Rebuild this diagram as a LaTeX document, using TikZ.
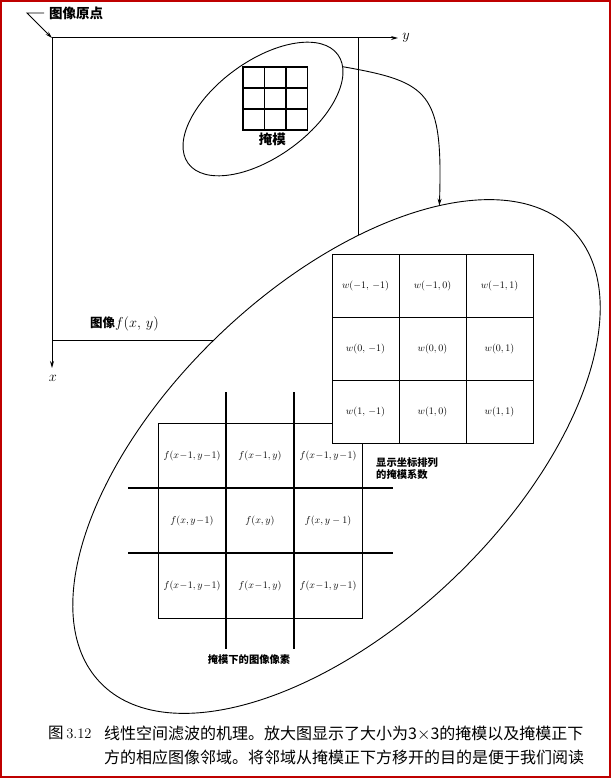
\documentclass[tikz,border=0pt]{standalone}
\usepackage{fontspec}
\newfontfamily\cjk{Noto Sans CJK SC}
\usetikzlibrary{shapes.geometric,arrows.meta,positioning}

\begin{document}
\begin{tikzpicture}[x=1pt,y=-1pt]

      \tikzset{cell/.style={draw, line width=1pt, inner sep=0pt, outer sep=0pt},
               fcell/.style={cell, minimum width=68pt, minimum height=65pt, font=\fontsize{10}{11}\selectfont},
               wcell/.style={cell, fill=white, minimum width=67pt, minimum height=63pt, font=\fontsize{9.6}{11}\selectfont},
               mcell/.style={cell, line width=1.2pt, minimum width=21.5pt, minimum height=21pt},
               blob/.style={draw, ellipse, line width=0.9pt, inner sep=0pt, outer sep=0pt},
               lbl/.style={font=\cjk\bfseries\fontsize{10.3}{12.5}\selectfont, inner sep=1pt},
               axisarrow/.style={-{Stealth[length=7pt,width=4pt]}}}
\useasboundingbox (0,0) rectangle (611,778);
\draw[red!75!black, line width=2pt] (1,1) rectangle (610,777);
%% Image f(x,y)
        \coordinate (o) at (52,38);
        \coordinate (ytip) at (398,38);
        \coordinate (xtip) at (52,368);
        \draw[line width=1pt] (358,38) -- (358,340) -- (52,340);
        \draw[line width=1pt, axisarrow] (o) -- (ytip);
        \draw[line width=1pt, axisarrow] (o) -- (xtip);
        \node[font=\fontsize{15}{16}\selectfont, inner sep=1pt] (ylab) at (406,38) {$y$};
        \node[font=\fontsize{15}{16}\selectfont, inner sep=1pt] (xlab) at (53,378) {$x$};
        \node[lbl, font=\cjk\bfseries\fontsize{13.5}{15}\selectfont, anchor=west] (origin) at (48,13) {图像原点};
        \draw[line width=0.9pt, axisarrow] ([xshift=-4pt]origin.west) -- ++(-17,0) -- (o);
        \node[lbl, font=\cjk\bfseries\fontsize{12.5}{14}\selectfont, anchor=west] (image) at (89,324) {图像{\fontsize{13.5}{14}\selectfont$f(x,\,y)$}};
%% Mask
        \node[blob, minimum width=185pt, minimum height=96pt, rotate=36] (small) at (263,109) {};
        \node[mcell] (m11) at (253.75,77.5) {};
        \node[mcell] (m12) at (275.25,77.5) {};
        \node[mcell] (m13) at (296.75,77.5) {};
        \node[mcell] (m21) at (253.75,98.5) {};
        \node[mcell] (m22) at (275.25,98.5) {};
        \node[mcell] (m23) at (296.75,98.5) {};
        \node[mcell] (m31) at (253.75,119.5) {};
        \node[mcell] (m32) at (275.25,119.5) {};
        \node[mcell] (m33) at (296.75,119.5) {};
        \node[lbl, font=\cjk\bfseries\fontsize{13.5}{15}\selectfont, below=2pt of m32, xshift=-3pt] (masklab) {掩模};
%% Enlarged view
        \node[blob, fill=white, minimum width=654pt, minimum height=338pt, rotate=43.7] (big) at (336.5,456.5) {};
%Pixels under the mask
        \node[fcell] (f11) at (192,455.5) {$f(x\!-\!1,y\!-\!1)$};
        \node[fcell] (f12) at (260,455.5) {$f(x\!-\!1,y)$};
        \node[fcell] (f13) at (328,455.5) {$f(x\!-\!1,y\!-\!1)$};
        \node[fcell] (f21) at (192,520.5) {$f(x,y\!-\!1)$};
        \node[fcell] (f22) at (260,520.5) {$f(x,y)$};
        \node[fcell] (f23) at (328,520.5) {$f(x,y-1)$};
        \node[fcell] (f31) at (192,585.5) {$f(x\!-\!1,y\!-\!1)$};
        \node[fcell] (f32) at (260,585.5) {$f(x\!-\!1,y)$};
        \node[fcell] (f33) at (328,585.5) {$f(x\!-\!1,y\!-\!1)$};
        \draw[line width=1.2pt] ([yshift=31pt]f11.north east) -- ([yshift=-31pt]f31.south east);
        \draw[line width=1.2pt] ([yshift=31pt]f13.north west) -- ([yshift=-31pt]f33.south west);
        \draw[line width=1.2pt] ([xshift=-30pt]f21.north west) -- ([xshift=31pt]f23.north east);
        \draw[line width=1.2pt] ([xshift=-30pt]f31.north west) -- ([xshift=31pt]f33.north east);
        \node[lbl, below=35pt of f32, xshift=-11pt] (pixlab) {掩模下的图像像素};
%Mask coefficients
        \node[wcell] (w11) at (365.5,285.5) {$w(-1,\,-1)$};
        \node[wcell] (w12) at (432.5,285.5) {$w(-1,0)$};
        \node[wcell] (w13) at (499.5,285.5) {$w(-1,1)$};
        \node[wcell] (w21) at (365.5,348.5) {$w(0,\,-1)$};
        \node[wcell] (w22) at (432.5,348.5) {$w(0,0)$};
        \node[wcell] (w23) at (499.5,348.5) {$w(0,1)$};
        \node[wcell] (w31) at (365.5,411.5) {$w(1,\,-1)$};
        \node[wcell] (w32) at (432.5,411.5) {$w(1,0)$};
        \node[wcell] (w33) at (499.5,411.5) {$w(1,1)$};
        \node[lbl, anchor=north west, align=left] (coeflab) at (375,456) {显示坐标排列\\的掩模系数};
%Edges
        \draw[line width=0.9pt, axisarrow] (small.-8) .. controls (430,82) and (443,92) .. (big.24);
%% Caption
        \node[font=\cjk\fontsize{15.5}{18}\selectfont, anchor=west, inner sep=0pt] (capnum) at (48,733) {图\,{\rmfamily\fontsize{14.5}{18}\selectfont 3.12}};
        \node[font=\cjk\fontsize{16}{18}\selectfont, anchor=west, inner sep=0pt] (cap1) at (104,733) {线性空间滤波的机理。放大图显示了大小为3$\times$3的掩模以及掩模正下};
        \node[font=\cjk\fontsize{16}{18}\selectfont, anchor=west, inner sep=0pt] (cap2) at (104,757) {方的相应图像邻域。将邻域从掩模正下方移开的目的是便于我们阅读};

\end{tikzpicture}
\end{document}
